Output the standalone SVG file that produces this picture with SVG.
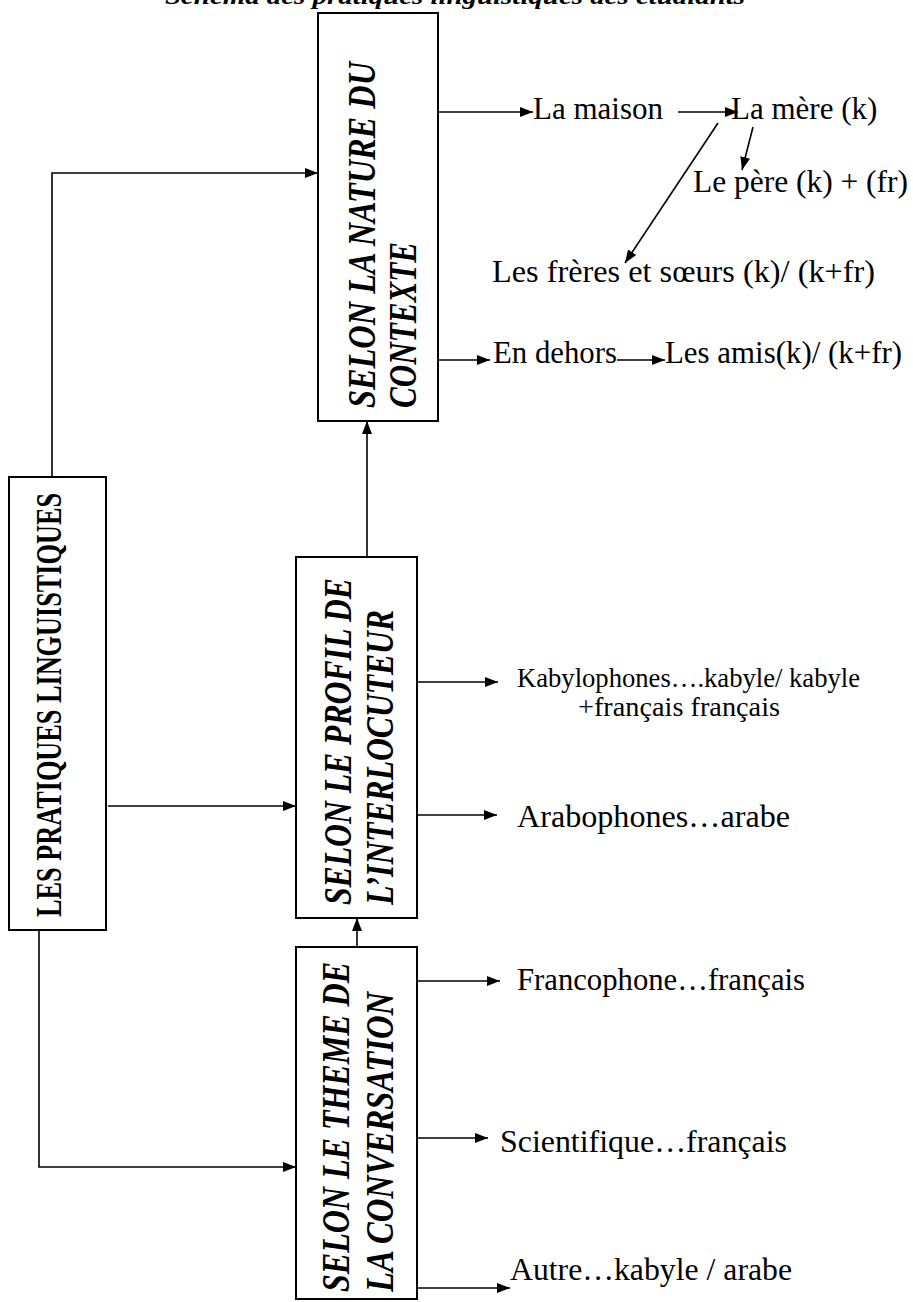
<svg xmlns="http://www.w3.org/2000/svg" width="913" height="1302" viewBox="0 0 913 1302">
<defs>
<marker id="ah" markerUnits="userSpaceOnUse" markerWidth="14" markerHeight="10" refX="13" refY="5" orient="auto">
<path d="M0,0 L13,5 L0,10 z" fill="#000"/>
</marker>
<style>
.box{fill:#fff;stroke:#000;stroke-width:2}
.c{fill:none;stroke:#000;stroke-width:1.6}
.a{marker-end:url(#ah)}
.t{font-family:"Liberation Serif","Times New Roman",serif;font-size:31px;fill:#000}
.s{font-size:27px}
.bi{font-family:"Liberation Serif","Times New Roman",serif;font-weight:bold;font-style:italic;font-size:41px;fill:#000}
.b{font-family:"Liberation Serif","Times New Roman",serif;font-weight:bold;font-size:35px;fill:#000}
.title{font-family:"Liberation Serif","Times New Roman",serif;font-weight:bold;font-style:italic;font-size:24px;fill:#000}
</style>
</defs>
<rect width="913" height="1302" fill="#fff"/>
<text class="title" x="165" y="4" textLength="580" lengthAdjust="spacingAndGlyphs">Schéma des pratiques linguistiques des étudiants</text>

<g id="connectors">
<path class="c a" d="M52,477 V173 H318"/>
<path class="c a" d="M108,806 H296"/>
<path class="c a" d="M39,930 V1167 H296"/>
<path class="c a" d="M357,947 V918"/>
<path class="c a" d="M367,557 V421"/>
<path class="c a" d="M438,112 H533"/>
<path class="c a" d="M678,112 H738"/>
<path class="c a" d="M753,127 L742,170"/>
<path class="c a" d="M718,123 L625,263"/>
<path class="c a" d="M438,360 H490"/>
<path class="c a" d="M617,360 H665"/>
<path class="c a" d="M417,682 H498"/>
<path class="c a" d="M417,815 H497"/>
<path class="c a" d="M417,981 H500"/>
<path class="c a" d="M417,1138 H488"/>
<path class="c a" d="M417,1288 H510"/>
</g>

<g id="node-pratiques">
<rect class="box" x="9" y="477" width="97" height="453"/>
<text class="b" transform="translate(61,917) rotate(-90)" textLength="424" lengthAdjust="spacingAndGlyphs">LES PRATIQUES LINGUISTIQUES</text>
</g>

<g id="node-contexte">
<rect class="box" x="318" y="13" width="120" height="408"/>
<text class="bi" transform="translate(375,408) rotate(-90)" textLength="346" lengthAdjust="spacingAndGlyphs">SELON LA NATURE DU</text>
<text class="bi" transform="translate(416,408) rotate(-90)" textLength="166" lengthAdjust="spacingAndGlyphs">CONTEXTE</text>
</g>

<g id="node-profil">
<rect class="box" x="296" y="557" width="121" height="361"/>
<text class="bi" transform="translate(351,905) rotate(-90)" textLength="327" lengthAdjust="spacingAndGlyphs">SELON LE PROFIL DE</text>
<text class="bi" transform="translate(393,905) rotate(-90)" textLength="295" lengthAdjust="spacingAndGlyphs">L’INTERLOCUTEUR</text>
</g>

<g id="node-theme">
<rect class="box" x="296" y="947" width="121" height="352"/>
<text class="bi" transform="translate(349,1292) rotate(-90)" textLength="330" lengthAdjust="spacingAndGlyphs">SELON LE THEME DE</text>
<text class="bi" transform="translate(393,1292) rotate(-90)" textLength="300" lengthAdjust="spacingAndGlyphs">LA CONVERSATION</text>
</g>

<g id="node-maison"><text class="t" x="533" y="119" textLength="130" lengthAdjust="spacingAndGlyphs">La maison</text></g>
<g id="node-mere"><text class="t" x="731" y="119">La mère (k)</text></g>
<g id="node-pere"><text class="t" x="693" y="192" textLength="215" lengthAdjust="spacingAndGlyphs">Le père (k) + (fr)</text></g>
<g id="node-freres"><text class="t" x="492" y="282" textLength="383" lengthAdjust="spacingAndGlyphs">Les frères et sœurs (k)/ (k+fr)</text></g>
<g id="node-dehors"><text class="t" x="493" y="363" textLength="124" lengthAdjust="spacingAndGlyphs">En dehors</text></g>
<g id="node-amis"><text class="t" x="665" y="363" textLength="237" lengthAdjust="spacingAndGlyphs">Les amis(k)/ (k+fr)</text></g>
<g id="node-kabylophones">
<text class="t s" x="517" y="687" textLength="343" lengthAdjust="spacingAndGlyphs">Kabylophones….kabyle/ kabyle</text>
<text class="t s" x="578" y="716" textLength="202" lengthAdjust="spacingAndGlyphs">+français français</text>
</g>
<g id="node-arabophones"><text class="t" x="517" y="827" textLength="273" lengthAdjust="spacingAndGlyphs">Arabophones…arabe</text></g>
<g id="node-francophone"><text class="t" x="517" y="990" textLength="288" lengthAdjust="spacingAndGlyphs">Francophone…français</text></g>
<g id="node-scientifique"><text class="t" x="500" y="1152" textLength="287" lengthAdjust="spacingAndGlyphs">Scientifique…français</text></g>
<g id="node-autre"><text class="t" x="510" y="1280" textLength="282" lengthAdjust="spacingAndGlyphs">Autre…kabyle / arabe</text></g>
</svg>
